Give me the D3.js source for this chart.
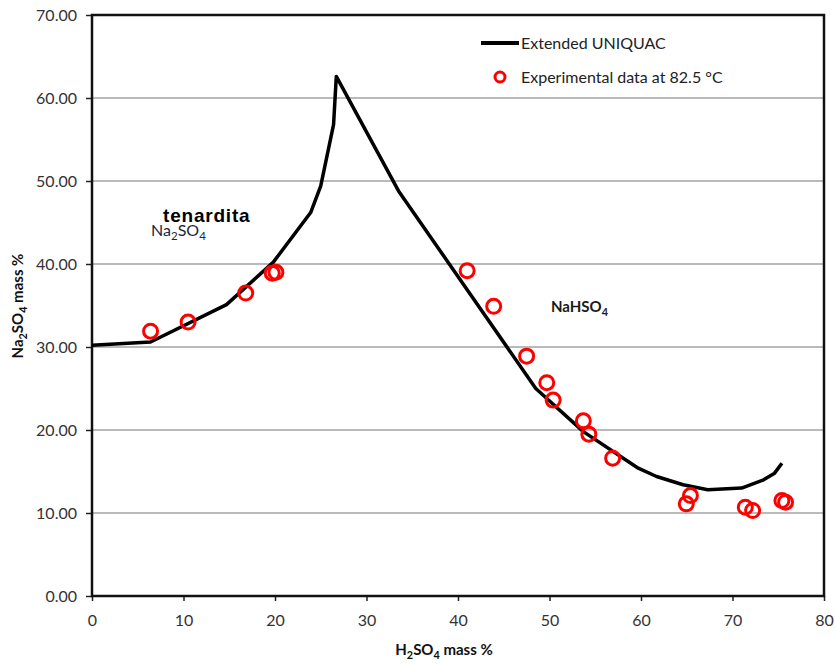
<!DOCTYPE html>
<html>
<head>
<meta charset="utf-8">
<script src="https://cdn.jsdelivr.net/npm/d3@7"></script>
<style>
  body { margin: 0; background: #fff; }
  text { font-family: Lato, "Open Sans", sans-serif; }
</style>
</head>
<body>
<svg id="chart" width="835" height="664"></svg>
<script>
// model curve (Extended UNIQUAC), H2SO4 mass % vs Na2SO4 mass %
const modelX = [0, 6.4, 14.7, 19.8, 23.9, 25.0, 26.4, 26.7, 33.5, 48.5, 53.7, 59.7, 61.7, 64.6, 67.3, 71.0, 73.4, 74.6, 75.4];
const modelY = [30.2, 30.6, 35.1, 40.2, 46.2, 49.4, 56.8, 62.6, 48.8, 25.0, 19.8, 15.4, 14.4, 13.4, 12.8, 13.0, 14.0, 14.8, 16.0];

// experimental points at 82.5 °C
const expX = [6.4, 10.5, 16.8, 19.7, 20.1, 41.0, 43.9, 47.5, 49.7, 50.4, 53.7, 54.3, 56.9, 65.4, 64.95, 71.4, 72.2, 75.4, 75.8];
const expY = [31.9, 33.0, 36.5, 38.9, 39.0, 39.2, 34.9, 28.9, 25.7, 23.6, 21.1, 19.5, 16.6, 12.1, 11.1, 10.7, 10.3, 11.5, 11.3];

const xTicks = [0, 10, 20, 30, 40, 50, 60, 70, 80];
const yTicks = [0, 10, 20, 30, 40, 50, 60, 70];

const margin = { top: 15, right: 11, bottom: 68, left: 92 };
const width = 835 - margin.left - margin.right;
const height = 664 - margin.top - margin.bottom;

const svg = d3.select("#chart");
const g = svg.append("g")
    .attr("transform", "translate(" + margin.left + "," + margin.top + ")");

const x = d3.scaleLinear().domain([0, 80]).range([0, width]);
const y = d3.scaleLinear().domain([0, 70]).range([height, 0]);

// horizontal gridlines
g.selectAll(".grid")
    .data(yTicks.slice(1, -1))
    .join("line")
    .attr("x1", 0).attr("x2", width)
    .attr("y1", d => y(d)).attr("y2", d => y(d))
    .attr("stroke", "#a3a3a3")
    .attr("stroke-width", 1.5);

// axes
const yAxis = g.append("g")
    .call(d3.axisLeft(y).tickValues(yTicks).tickFormat(d3.format(".2f")).tickSize(6).tickPadding(9));
const xAxis = g.append("g")
    .attr("transform", "translate(0," + height + ")")
    .call(d3.axisBottom(x).tickValues(xTicks).tickSize(5).tickPadding(14));

[xAxis, yAxis].forEach(a => {
    a.select(".domain").remove();
    a.selectAll(".tick line").attr("stroke", "#222").attr("stroke-width", 1.5);
    a.selectAll(".tick text")
        .attr("fill", "#333")
        .style("font-size", "16px")
        .style("font-family", "Lato, sans-serif");
});

// plot frame
g.append("rect")
    .attr("x", 0).attr("y", 0)
    .attr("width", width).attr("height", height)
    .attr("fill", "none")
    .attr("stroke", "#111")
    .attr("stroke-width", 2.5);

// model line
const line = d3.line().x(d => x(d[0])).y(d => y(d[1]));
g.append("path")
    .datum(d3.zip(modelX, modelY))
    .attr("d", line)
    .attr("fill", "none")
    .attr("stroke", "#000")
    .attr("stroke-width", 3.5)
    .attr("stroke-linejoin", "round");

// experimental circles
g.selectAll(".pt")
    .data(d3.zip(expX, expY))
    .join("circle")
    .attr("cx", d => x(d[0]))
    .attr("cy", d => y(d[1]))
    .attr("r", 7)
    .attr("fill", "none")
    .attr("stroke", "#ff0000")
    .attr("stroke-width", 3);

// legend
const legend = svg.append("g");
legend.append("line")
    .attr("x1", 481).attr("x2", 519)
    .attr("y1", 43).attr("y2", 43)
    .attr("stroke", "#000").attr("stroke-width", 4);
legend.append("text")
    .attr("x", 521).attr("y", 49)
    .style("font-size", "16px").attr("fill", "#222")
    .text("Extended UNIQUAC");
legend.append("circle")
    .attr("cx", 500).attr("cy", 77).attr("r", 5)
    .attr("fill", "none").attr("stroke", "#ff0000").attr("stroke-width", 3);
legend.append("text")
    .attr("x", 521).attr("y", 83)
    .style("font-size", "16px").attr("fill", "#222")
    .text("Experimental data at 82.5 °C");

// helper for chemical formulas with subscripts
function formula(sel, parts, size) {
    parts.forEach(p => {
        const t = sel.append("tspan").text(p[0]);
        if (p[1]) t.attr("dy", size * 0.25).style("font-size", (size * 0.72) + "px");
        else if (sel.selectAll("tspan").size() > 1) t.attr("dy", -size * 0.25);
    });
}

// phase labels (the two texts overlap slightly, as in the original figure)
svg.append("text")
    .attr("x", 163).attr("y", 222)
    .style("font-family", "'Liberation Sans', Arial, sans-serif")
    .style("font-size", "19px").style("font-weight", "bold")
    .style("letter-spacing", "0.8px")
    .attr("fill", "#000")
    .text("tenardita");

const na2 = svg.append("text")
    .attr("x", 151).attr("y", 236)
    .style("font-size", "16px").attr("fill", "#1a2740");
formula(na2, [["Na"], ["2", true], ["SO"], ["4", true]], 16);

const nahso = svg.append("text")
    .attr("x", 551).attr("y", 312)
    .style("font-size", "15px").style("font-weight", "bold").attr("fill", "#1a1a1a");
formula(nahso, [["NaHSO"], ["4", true]], 15);

// axis titles
const xt = svg.append("text")
    .attr("x", 444).attr("y", 655)
    .attr("text-anchor", "middle")
    .style("font-size", "15px").style("font-weight", "bold").attr("fill", "#111");
formula(xt, [["H"], ["2", true], ["SO"], ["4", true], [" mass %"]], 15);

const yt = svg.append("text")
    .attr("transform", "translate(23,306) rotate(-90)")
    .attr("text-anchor", "middle")
    .style("font-size", "15px").style("font-weight", "bold").attr("fill", "#111");
formula(yt, [["Na"], ["2", true], ["SO"], ["4", true], [" mass %"]], 15);
</script>
</body>
</html>
